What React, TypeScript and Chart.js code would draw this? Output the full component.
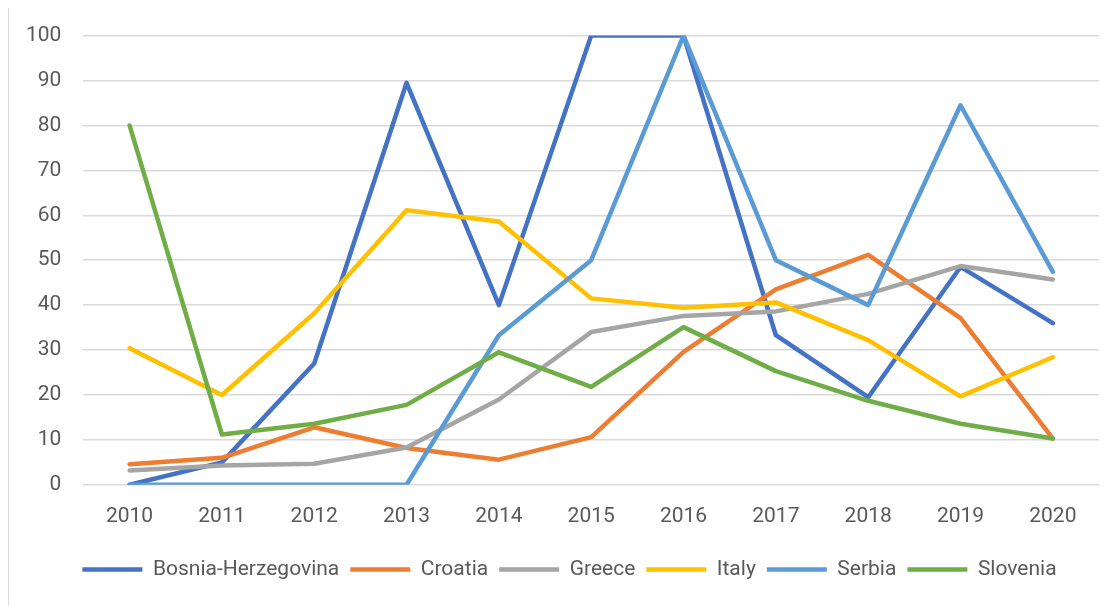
import React, { useEffect, useRef } from "react";
import { Chart, registerables } from "chart.js";

Chart.register(...registerables);

const years = ["2010", "2011", "2012", "2013", "2014", "2015", "2016", "2017", "2018", "2019", "2020"];
const bosnia = [0, 5, 27, 89.5, 40, 100, 100, 33.3, 19.5, 48.5, 36];
const croatia = [4.6, 6, 12.8, 8.2, 5.6, 10.6, 29.6, 43.5, 51.2, 37.1, 10.3];
const greece = [3.2, 4.3, 4.7, 8.3, 19, 34, 37.6, 38.6, 42.5, 48.7, 45.7];
const italy = [30.4, 20, 38.2, 61.1, 58.6, 41.5, 39.4, 40.6, 32.2, 19.7, 28.4];
const serbia = [0, 0, 0, 0, 33.3, 50, 100, 50, 40, 84.5, 47.4];
const slovenia = [80, 11.2, 13.6, 17.8, 29.5, 21.8, 35.1, 25.3, 18.7, 13.6, 10.3];

const seriesNames = ["Bosnia-Herzegovina", "Croatia", "Greece", "Italy", "Serbia", "Slovenia"];
const seriesData = [bosnia, croatia, greece, italy, serbia, slovenia];
const seriesColors = ["#4472C4", "#ED7D31", "#A5A5A5", "#FFC000", "#5B9BD5", "#70AD47"];

const FONT = "Roboto, 'Segoe UI', sans-serif";
const TEXT = "#595959";

const legendShift = {
  id: "legendShift",
  afterLayout(chart: any) {
    const lg = chart.legend;
    if (lg) {
      lg.left += 18;
      lg.right += 18;
    }
  },
};

export default function App() {
  const ref = useRef<HTMLCanvasElement | null>(null);

  useEffect(() => {
    if (!ref.current) return;
    const chart = new Chart(ref.current, {
      type: "line",
      data: {
        labels: years,
        datasets: seriesNames.map((name, i) => ({
          label: name,
          data: seriesData[i],
          borderColor: seriesColors[i],
          backgroundColor: seriesColors[i],
          borderWidth: 4.5,
          borderCapStyle: "round",
          borderJoinStyle: "round",
          pointRadius: 0,
          pointHoverRadius: 0,
          tension: 0,
          fill: false,
          order: seriesNames.length - i,
        })),
      },
      options: {
        animation: false,
        responsive: false,
        maintainAspectRatio: false,
        layout: { padding: { left: 0, right: 21, top: 4, bottom: 16 } },
        plugins: {
          tooltip: { enabled: false },
          legend: {
            position: "bottom",
            labels: {
              usePointStyle: true,
              pointStyle: "line",
              pointStyleWidth: 60,
              boxHeight: 21,
              padding: 11,
              color: TEXT,
              font: { family: FONT, size: 21 },
              sort: (a: any, b: any) => a.datasetIndex - b.datasetIndex,
            },
          },
        },
        scales: {
          x: {
            type: "category",
            offset: true,
            grid: { display: false, drawTicks: false },
            border: { display: false },
            ticks: { color: TEXT, font: { family: FONT, size: 21 }, padding: 19, maxRotation: 0 },
          },
          y: {
            min: 0,
            max: 100,
            ticks: { stepSize: 10, color: TEXT, font: { family: FONT, size: 21 }, padding: 22 },
            grid: { color: "#d9d9d9", lineWidth: 1.5, drawTicks: false },
            border: { display: false },
          },
        },
      },
      plugins: [legendShift],
    });
    return () => chart.destroy();
  }, []);

  return (
    <div
      style={{
        marginLeft: -1,
        marginTop: -2,
        width: 1113,
        height: 600,
        borderTop: "2px solid #d9d9d9",
        borderLeft: "2px solid #d9d9d9",
        background: "#fff",
      }}
    >
      <canvas ref={ref} width={1116} height={605} style={{ display: "block", marginLeft: -5, marginTop: -7 }} />
    </div>
  );
}
